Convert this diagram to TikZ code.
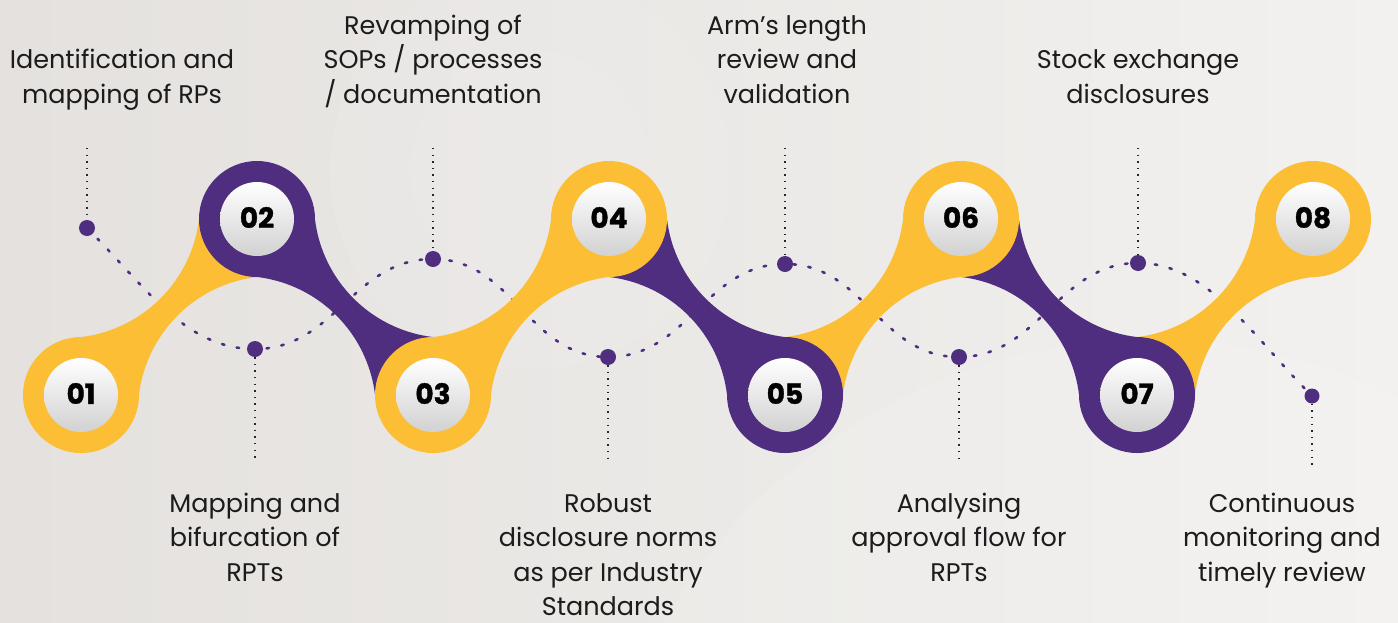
\documentclass[tikz,border=0pt]{standalone}
\usepackage{fontspec}
\setmainfont{Poppins}
\newfontfamily\numfont{Poppins}[BoldFeatures={FakeBold=1.2}]
\definecolor{ylw}{HTML}{FCBE34}
\definecolor{prp}{HTML}{4F2D7F}
\definecolor{bgA}{HTML}{E4E1DE}
\definecolor{bgB}{HTML}{F2F1EF}
\definecolor{txt}{HTML}{1C1C1C}
\newcommand\risingband[2]{%
  \fill[#2] (#1,395) -- plot[domain=85.2:4.8,samples=40] ({#1-16+135*cos(\x)},{203+135*sin(\x)})
    -- (#1+176,219) -- plot[domain=265.2:184.8,samples=40] ({#1+192+135*cos(\x)},{411+135*sin(\x)}) -- cycle;}
\newcommand\fallingband[2]{%
  \fill[#2] (#1,219) -- plot[domain=-85.2:-4.8,samples=40] ({#1-16+135*cos(\x)},{411+135*sin(\x)})
    -- (#1+176,395) -- plot[domain=94.8:175.2,samples=40] ({#1+192+135*cos(\x)},{203+135*sin(\x)}) -- cycle;}
\begin{document}
\begin{tikzpicture}[x=1pt,y=-1pt,
  ringnode/.style={circle,minimum size=116pt,inner sep=0pt},
  ballnode/.style={circle,minimum size=74pt,inner sep=0pt,top color=white,bottom color=black!18,
    font=\numfont\bfseries\fontsize{28}{28}\selectfont,text=black},
  wavedot/.style={circle,fill=prp,minimum size=16pt,inner sep=0pt},
  steptext/.style={align=center,text=txt,inner sep=0pt,font=\fontsize{25.5}{34.5}\selectfont},
  wave/.style={prp,line width=2.6pt,dash pattern=on 2.5pt off 12.5pt,line cap=round},
  leader/.style={black!85,line width=1.4pt,dash pattern=on 1.4pt off 5.2pt}]
\useasboundingbox (0,0) rectangle (1398,622);
% background
\shade[left color=bgA,right color=bgB] (0,0) rectangle (1398,622);
\fill[white,opacity=0.08] (530,170) circle (200);
\fill[white,opacity=0.06] (530,170) circle (120);
\fill[white,opacity=0.10] (1150,900) circle (560);
% dots
\node[wavedot] (d1) at (87,228) {};
\node[wavedot] (d2) at (255,349) {};
\node[wavedot] (d3) at (433,259) {};
\node[wavedot] (d4) at (608,357) {};
\node[wavedot] (d5) at (785,264) {};
\node[wavedot] (d6) at (959,357) {};
\node[wavedot] (d7) at (1138,263) {};
\node[wavedot,minimum size=15pt] (d8) at (1312,396) {};
% dashed wave
\draw[wave] (d1.center) .. controls (147,288) and (185,349) .. (d2.center)
  .. controls (335,349) and (353,259) .. (d3.center)
  .. controls (513,259) and (528,357) .. (d4.center)
  .. controls (688,357) and (705,264) .. (d5.center)
  .. controls (865,264) and (879,357) .. (d6.center)
  .. controls (1039,357) and (1058,263) .. (d7.center)
  .. controls (1208,263) and (1252,336) .. (d8.center);
% bands
\risingband{81}{ylw}
\fallingband{257}{prp}
\risingband{433}{ylw}
\fallingband{609}{prp}
\risingband{785}{ylw}
\fallingband{961}{prp}
\risingband{1137}{ylw}
% rings
\node[ringnode,fill=ylw] (c1) at (81,395) {};
\node[ringnode,fill=prp] (c2) at (257,219) {};
\node[ringnode,fill=ylw] (c3) at (433,395) {};
\node[ringnode,fill=ylw] (c4) at (609,219) {};
\node[ringnode,fill=prp] (c5) at (785,395) {};
\node[ringnode,fill=ylw] (c6) at (961,219) {};
\node[ringnode,fill=prp] (c7) at (1137,395) {};
\node[ringnode,fill=ylw] (c8) at (1313,219) {};
% balls
\node[ballnode] (n1) at (c1) {\raisebox{3pt}{01}};
\node[ballnode] (n2) at (c2) {\raisebox{3pt}{02}};
\node[ballnode] (n3) at (c3) {\raisebox{3pt}{03}};
\node[ballnode] (n4) at (c4) {\raisebox{3pt}{04}};
\node[ballnode] (n5) at (c5) {\raisebox{3pt}{05}};
\node[ballnode] (n6) at (c6) {\raisebox{3pt}{06}};
\node[ballnode] (n7) at (c7) {\raisebox{3pt}{07}};
\node[ballnode] (n8) at (c8) {\raisebox{3pt}{08}};
% leader lines
\coordinate (t1) at (87,148);
\coordinate (t3) at (433,148);
\coordinate (t5) at (785,148);
\coordinate (t7) at (1138,148);
\coordinate (b2) at (255,460);
\coordinate (b4) at (608,460);
\coordinate (b6) at (959,460);
\coordinate (b8) at (1312,465);
\draw[leader] (t1) -- (d1);
\draw[leader] (t3) -- (d3);
\draw[leader] (t5) -- (d5);
\draw[leader] (t7) -- (d7);
\draw[leader] (d2) -- (b2);
\draw[leader] (d4) -- (b4);
\draw[leader] (d6) -- (b6);
\draw[leader] (d8) -- (b8);
% labels
\node[steptext,anchor=south] (l1) at (122,114) {\strut Identification and\\\strut mapping of RPs};
\node[steptext,anchor=south] (l3) at (433,114) {\strut Revamping of\\\strut SOPs / processes\\\strut / documentation};
\node[steptext,anchor=south] (l5) at (787,114) {\strut Arm's length\\\strut review and\\\strut validation};
\node[steptext,anchor=south] (l7) at (1138,114) {\strut Stock exchange\\\strut disclosures};
\node[steptext,anchor=north] (l2) at (255,488) {\strut Mapping and\\\strut bifurcation of\\\strut RPTs};
\node[steptext,anchor=north] (l4) at (608,488) {\strut Robust\\\strut disclosure norms\\\strut as per Industry\\\strut Standards};
\node[steptext,anchor=north] (l6) at (959,488) {\strut Analysing\\\strut approval flow for\\\strut RPTs};
\node[steptext,anchor=north] (l8) at (1282,488) {\strut Continuous\\\strut monitoring and\\\strut timely review};
\end{tikzpicture}
\end{document}
